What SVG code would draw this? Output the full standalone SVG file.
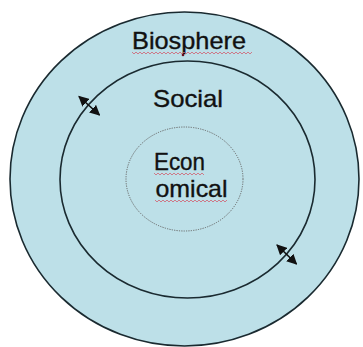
<svg xmlns="http://www.w3.org/2000/svg" width="363" height="347" viewBox="0 0 363 347">
<style>
.lbl{font-family:"Liberation Sans",Arial,sans-serif;font-size:24px;fill:#111;stroke:#111;stroke-width:0.35;}
.ring{fill:none;stroke:#1a2a30;stroke-width:1.6;}
.sq{fill:none;stroke:#d06070;stroke-width:0.8;}
.arr{stroke:#111;stroke-width:1.6;marker-start:url(#ah);marker-end:url(#ah);}
</style>
<defs>
<marker id="ah" viewBox="0 0 10 10" refX="9" refY="5" markerWidth="6.5" markerHeight="6.5" orient="auto-start-reverse" markerUnits="strokeWidth">
<path d="M0,0 L10,5 L0,10 z" fill="#111"/>
</marker>
</defs>
<rect width="363" height="347" fill="#ffffff"/>
<g id="biosphere">
<ellipse cx="184.5" cy="179" rx="174.5" ry="167" fill="#bde0e8" stroke="#1a2a30" stroke-width="1.6"/>
<text class="lbl" x="189" y="49" text-anchor="middle" textLength="114" lengthAdjust="spacingAndGlyphs">Biosphere</text>
<path class="sq" d="M132,52 l2,2 l2,-2 l2,2 l2,-2 l2,2 l2,-2 l2,2 l2,-2 l2,2 l2,-2 l2,2 l2,-2 l2,2 l2,-2 l2,2 l2,-2 l2,2 l2,-2 l2,2 l2,-2 l2,2 l2,-2 l2,2 l2,-2 l2,2 l2,-2 l2,2 l2,-2 l2,2 l2,-2 l2,2 l2,-2 l2,2 l2,-2 l2,2 l2,-2 l2,2 l2,-2 l2,2 l2,-2 l2,2 l2,-2 l2,2 l2,-2 l2,2 l2,-2 l2,2 l2,-2 l2,2 l2,-2 l2,2 l2,-2 l2,2 l2,-2 l2,2 l2,-2 l2,2 l2,-2 l2,2 l2,-2"/>
<circle cx="183" cy="55" r="1.3" fill="#6a1020"/>
</g>
<g id="social">
<ellipse class="ring" cx="187.5" cy="179.5" rx="127.5" ry="118.5"/>
<text class="lbl" x="188" y="107" text-anchor="middle" textLength="70" lengthAdjust="spacingAndGlyphs">Social</text>
</g>
<g id="economical">
<ellipse cx="184.5" cy="179" rx="58.5" ry="52" fill="none" stroke="#666" stroke-width="1" stroke-dasharray="1.2,1.2"/>
<text class="lbl" x="154" y="170" textLength="51" lengthAdjust="spacingAndGlyphs">Econ</text>
<text class="lbl" x="155.5" y="197" textLength="72" lengthAdjust="spacingAndGlyphs">omical</text>
<path class="sq" d="M154,173 l2,2 l2,-2 l2,2 l2,-2 l2,2 l2,-2 l2,2 l2,-2 l2,2 l2,-2 l2,2 l2,-2 l2,2 l2,-2 l2,2 l2,-2 l2,2 l2,-2 l2,2 l2,-2 l2,2 l2,-2 l2,2 l2,-2 l2,2"/>
<path class="sq" d="M155,200 l2,2 l2,-2 l2,2 l2,-2 l2,2 l2,-2 l2,2 l2,-2 l2,2 l2,-2 l2,2 l2,-2 l2,2 l2,-2 l2,2 l2,-2 l2,2 l2,-2 l2,2 l2,-2 l2,2 l2,-2 l2,2 l2,-2 l2,2 l2,-2 l2,2 l2,-2 l2,2 l2,-2 l2,2 l2,-2 l2,2 l2,-2 l2,2 l2,-2"/>
</g>
<g id="connectors">
<line class="arr" x1="79" y1="96.5" x2="99.5" y2="115"/>
<line class="arr" x1="277" y1="245" x2="296.5" y2="264"/>
</g>
</svg>
